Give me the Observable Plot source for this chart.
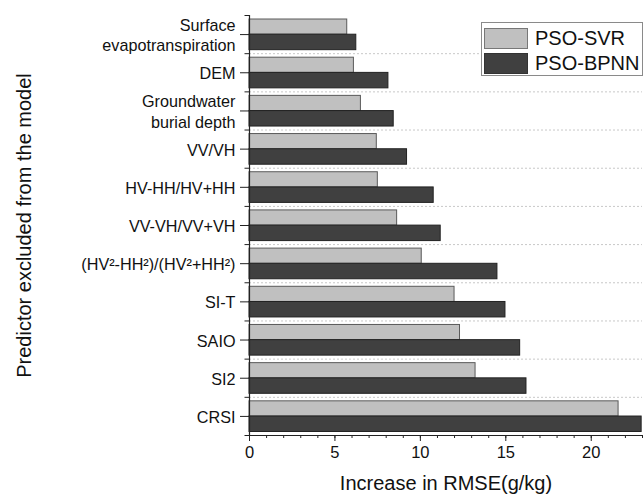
<!DOCTYPE html>
<html><head><meta charset="utf-8">
<script src="https://cdn.jsdelivr.net/npm/d3@7"></script>
<script src="https://cdn.jsdelivr.net/npm/@observablehq/plot@0.6"></script>
<style>
body{margin:0;background:#fff;font-family:"Liberation Sans",Arial,sans-serif;}
#wrap{position:relative;width:644px;height:496px;overflow:hidden;}
.legend{position:absolute;left:481px;top:22px;width:162px;height:54px;border:1px solid #8a8a8a;box-sizing:border-box;background:#fff;padding:3px 0 0 2px;}
.row{display:flex;align-items:center;height:24.5px;margin-bottom:1px;font-size:20px;color:#111;}
.sw{display:inline-block;width:44px;height:21px;box-sizing:border-box;border:1.5px solid #666;margin-right:7px;}
</style></head><body><div id="wrap"></div><script>
const categories = ["Surface\nevapotranspiration","DEM","Groundwater\nburial depth","VV/VH","HV-HH/HV+HH","VV-VH/VV+VH","(HV²-HH²)/(HV²+HH²)","SI-T","SAIO","SI2","CRSI"];
const svr  = [5.72, 6.11, 6.52, 7.45, 7.51, 8.64, 10.08, 12.0, 12.32, 13.23, 21.6];
const bpnn = [6.25, 8.13, 8.44, 9.22, 10.78, 11.19, 14.51, 14.98, 15.84, 16.21, 22.95];
const series = ["PSO-SVR", "PSO-BPNN"];
const seriesFill = ["#c0c0c0", "#404040"];
const seriesStroke = ["#5a5a5a", "#222222"];
const xTicks = [0, 5, 10, 15, 20];
const xLabel = "Increase in RMSE(g/kg)";
const yLabel = "Predictor excluded from the model";

const rows = categories.map((c, i) => ({i, cat: c, svr: svr[i], bpnn: bpnn[i]}));
const n = categories.length;

const chart = Plot.plot({
  width: 644, height: 496,
  marginTop: 15, marginBottom: 61, marginLeft: 249, marginRight: 2,
  style: {fontFamily: "Liberation Sans, Arial, sans-serif", color: "#111", background: "#fff"},
  x: {domain: [0, 23]},
  y: {domain: [0, n], reverse: true},
  marks: [
    Plot.gridY(d3.range(1, n), {stroke: "#c8c8c8", strokeOpacity: 1, strokeDasharray: "2,2"}),
    Plot.rect(rows, {x1: 0, x2: "svr", y1: d => d.i + 0.105, y2: d => d.i + 0.503, fill: seriesFill[0], stroke: seriesStroke[0], strokeWidth: 1}),
    Plot.rect(rows, {x1: 0, x2: "bpnn", y1: d => d.i + 0.503, y2: d => d.i + 0.908, fill: seriesFill[1], stroke: seriesStroke[1], strokeWidth: 1}),
    Plot.axisY(d3.range(n).map(i => i + 0.5), {tickSize: 9, tickPadding: 5, fontSize: 16.2, lineHeight: 1.25, tickFormat: v => categories[Math.floor(v)], label: null, stroke: "#222"}),
    Plot.axisY(d3.range(n + 1), {tickSize: 4.5, tickFormat: () => "", label: null, stroke: "#222"}),
    Plot.axisX(xTicks, {tickSize: 6, tickPadding: 5, fontSize: 16.5, label: null, stroke: "#222"}),
    Plot.axisX(d3.range(0, 24), {tickSize: 3, tickFormat: () => "", label: null, stroke: "#222"}),
    Plot.ruleX([0], {stroke: "#222", strokeWidth: 1.2}),
    Plot.ruleY([n], {stroke: "#222", strokeWidth: 1.2}),
    Plot.text([xLabel], {frameAnchor: "bottom", dy: 54, fontSize: 20, fill: "#111"}),
    Plot.text([yLabel], {frameAnchor: "left", textAnchor: "middle", dx: -225, rotate: -90, fontSize: 20, fill: "#111"})
  ]
});
const wrap = document.getElementById("wrap");
wrap.appendChild(chart);
const lg = document.createElement("div");
lg.className = "legend";
series.forEach((s, k) => {
  const r = document.createElement("div");
  r.className = "row";
  const sw = document.createElement("span");
  sw.className = "sw";
  sw.style.background = seriesFill[k];
  sw.style.borderColor = k === 0 ? "#777" : "#333";
  r.appendChild(sw);
  r.appendChild(document.createTextNode(s));
  lg.appendChild(r);
});
wrap.appendChild(lg);
</script></body></html>
